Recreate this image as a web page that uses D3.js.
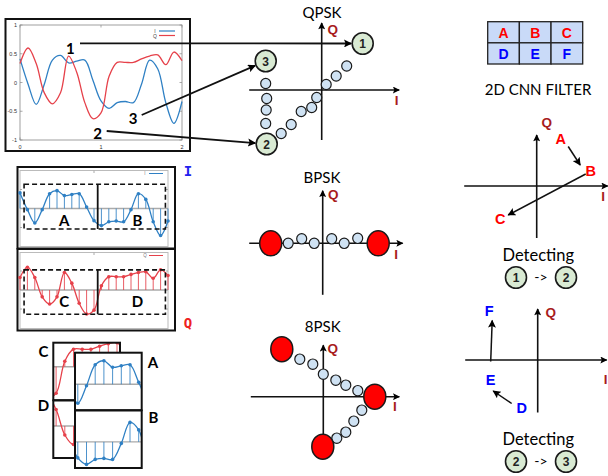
<!DOCTYPE html>
<html><head><meta charset="utf-8">
<script src="https://cdn.jsdelivr.net/npm/d3@7"></script>
<style>body{margin:0;background:#fff}svg{display:block}</style>
</head><body>
<svg id="c" width="608" height="476"></svg>
<script>
// ---------------- DATA ----------------
// I / Q baseband samples (21 samples over t = 0..2)
const iSamples = [0.41,-0.03,-0.38,-0.03,0.39,0.47,0.34,0.37,0.39,0.04,-0.32,-0.45,-0.35,-0.33,-0.35,-0.03,0.39,0.24,-0.35,-0.71,-0.33];
const qSamples = [0.33,0.60,0.33,-0.18,-0.37,-0.18,0.46,0.18,-0.35,-0.63,-0.53,0.11,0.35,0.35,0.35,0.41,0.46,0.48,0.31,0.53,0.38];
const yTicks = [1,0.5,0,-0.5,-1];
const yTickLabels = ["1","0.5","0","-0.5","-1"];
const xTicks = [0,1,2];
const xTickLabels = ["0","1","2"];
const windowLabelsI = ["A","B"];
const windowLabelsQ = ["C","D"];

// constellations (I,Q in symbol units)
const qpskSymbols = [{id:"1",i:0.82,q:0.93},{id:"2",i:-1.10,q:-1.08},{id:"3",i:-1.12,q:0.58}];
const qpskTraj = [[-1.12,0.13],[-1.10,-0.17],[-1.11,-0.40],[-1.12,-0.67],[-0.81,-0.87],[-0.61,-0.69],[-0.41,-0.43],[-0.20,-0.35],[-0.10,-0.15],[0.09,0.11],[0.29,0.28],[0.50,0.48]];
const bpskSymbols = [[-1.04,0],[1.11,0]];
const bpskTraj = [[-0.69,0],[-0.42,0.09],[-0.17,0],[0.18,0.09],[0.43,0],[0.70,0.10]];
const psk8Symbols = [[-0.83,0.95],[1.03,0],[-0.01,-1.0]];
const psk8Traj = [[-0.47,0.75],[-0.21,0.65],[0,0.45],[0.25,0.33],[0.45,0.23],[0.69,0.12],[0.77,-0.27],[0.61,-0.49],[0.45,-0.71],[0.27,-0.83]];

// 2D CNN filter
const filterRows = [["A","B","C"],["D","E","F"]];
// filter response paths (I,Q units)
const filter1Arrows = [[[0.63,0.79],[0.87,0.42]],[[0.98,0.24],[-0.57,-0.58]]];
const filter1Labels = [{t:"A",i:0.48,q:0.94},{t:"B",i:1.08,q:0.31},{t:"C",i:-0.73,q:-0.65}];
const filter2Arrows = [[[-0.94,-0.03],[-0.91,0.79]],[[-0.52,-0.87],[-0.89,-0.62]]];
const filter2Labels = [{t:"F",i:-0.97,q:0.99},{t:"E",i:-0.94,q:-0.39},{t:"D",i:-0.32,q:-0.95}];
const detect1 = ["1","2"];
const detect2 = ["2","3"];

// ---------------- DRAW ----------------
const svg = d3.select("#c");
const defs = svg.append("defs");
function mk(id,w,h){
  defs.append("marker").attr("id",id).attr("viewBox","0 0 10 10").attr("refX",9).attr("refY",5)
   .attr("markerWidth",w).attr("markerHeight",h).attr("markerUnits","userSpaceOnUse").attr("orient","auto")
   .append("path").attr("d","M0,0L10,5L0,10L2,5z").attr("fill","#000");
}
mk("ah",10,8); mk("ax",8,7);

const BLUE="#2f80c4", RED="#e6414a", DRED="#a81c1c";
const LATO="Lato, 'Open Sans', sans-serif", ARIAL="'Liberation Sans', Arial, sans-serif";
const curve = d3.curveCatmullRom.alpha(0.5);

function txt(g,x,y,s,o){
  o=o||{};
  return g.append("text").attr("x",x).attr("y",y).text(s)
   .attr("text-anchor",o.anchor||"middle").attr("dominant-baseline","central")
   .attr("font-family",o.font||LATO).attr("font-size",o.size||14)
   .attr("font-weight",o.weight||"normal").attr("fill",o.fill||"#000");
}

// ---- top-left time plot ----
(function(){
  const g = svg.append("g");
  g.append("rect").attr("x",5.5).attr("y",19).attr("width",184.5).attr("height",132)
   .attr("fill","#fff").attr("stroke","#111").attr("stroke-width",2);
  const x = d3.scaleLinear().domain([0,2]).range([20,182]);
  const y = d3.scaleLinear().domain([-1,1]).range([140,25]);
  g.append("rect").attr("x",20).attr("y",25).attr("width",162).attr("height",115)
   .attr("fill","none").attr("stroke","#888").attr("stroke-width",0.8);
  yTicks.forEach((v,k)=>{
    g.append("line").attr("x1",20).attr("x2",22.5).attr("y1",y(v)).attr("y2",y(v)).attr("stroke","#888").attr("stroke-width",0.7);
    g.append("line").attr("x1",182).attr("x2",179.5).attr("y1",y(v)).attr("y2",y(v)).attr("stroke","#888").attr("stroke-width",0.7);
    txt(g,17,y(v),yTickLabels[k],{anchor:"end",size:5.5,font:ARIAL,fill:"#333"});
  });
  xTicks.forEach((v,k)=>{
    g.append("line").attr("x1",x(v)).attr("x2",x(v)).attr("y1",140).attr("y2",137.5).attr("stroke","#888").attr("stroke-width",0.7);
    g.append("line").attr("x1",x(v)).attr("x2",x(v)).attr("y1",25).attr("y2",27.5).attr("stroke","#888").attr("stroke-width",0.7);
    txt(g,x(v),146.5,xTickLabels[k],{size:5.5,font:ARIAL,fill:"#333"});
  });
  const line = d3.line().x((d,i)=>x(i/10)).y(d=>y(d)).curve(curve);
  g.append("path").attr("d",line(iSamples)).attr("fill","none").attr("stroke",BLUE).attr("stroke-width",1.3);
  g.append("path").attr("d",line(qSamples)).attr("fill","none").attr("stroke",RED).attr("stroke-width",1.3);
  // legend
  txt(g,155,30.5,"I",{size:5,font:ARIAL,fill:"#444"});
  txt(g,155,35.5,"Q",{size:5,font:ARIAL,fill:"#444"});
  g.append("line").attr("x1",159).attr("x2",175).attr("y1",31).attr("y2",31).attr("stroke",BLUE).attr("stroke-width",1.2);
  g.append("line").attr("x1",159).attr("x2",175).attr("y1",35.5).attr("y2",35.5).attr("stroke",RED).attr("stroke-width",1.2);
})();

// ---- middle-left stem windows ----
function stemPanel(vals,color,top,zeroY,legend,labels,boxV){
  const g = svg.append("g");
  g.append("rect").attr("x",17.5).attr("y",top).attr("width",157.5).attr("height",81.5)
   .attr("fill","#fff").attr("stroke","#111").attr("stroke-width",2);
  const x = d3.scaleLinear().domain([0,20]).range([20,168]);
  const y = d3.scaleLinear().domain([-1,1]).range([zeroY+38,zeroY-38]);
  g.append("rect").attr("x",20).attr("y",top+3.5).attr("width",148).attr("height",76)
   .attr("fill","none").attr("stroke","#bbb").attr("stroke-width",1);
  [0.5,-0.5].forEach(v=>{
    g.append("line").attr("x1",20).attr("x2",22).attr("y1",y(v)).attr("y2",y(v)).attr("stroke","#aaa");
    g.append("line").attr("x1",168).attr("x2",166).attr("y1",y(v)).attr("y2",y(v)).attr("stroke","#aaa");
  });
  g.append("line").attr("x1",x(10)).attr("x2",x(10)).attr("y1",top+3.5).attr("y2",top+6).attr("stroke","#aaa");
  g.append("line").attr("x1",20).attr("x2",168).attr("y1",y(0)).attr("y2",y(0)).attr("stroke","#aaa").attr("stroke-width",1.4);
  g.selectAll(".st").data(vals).enter().append("line")
   .attr("x1",(d,i)=>x(i)).attr("x2",(d,i)=>x(i)).attr("y1",y(0)).attr("y2",d=>y(d))
   .attr("stroke",color).attr("stroke-width",1).attr("opacity",0.85);
  g.append("path").attr("d",d3.line().x((d,i)=>x(i)).y(d=>y(d)).curve(curve)(vals))
   .attr("fill","none").attr("stroke",color).attr("stroke-width",1.3);
  g.selectAll(".dt").data(vals).enter().append("circle")
   .attr("cx",(d,i)=>x(i)).attr("cy",d=>y(d)).attr("r",1.8).attr("fill",color);
  // legend
  txt(g,145,top+6.5,legend,{size:4.5,font:ARIAL,fill:"#777"});
  g.append("line").attr("x1",149).attr("x2",163).attr("y1",top+6.5).attr("y2",top+6.5).attr("stroke",color).attr("stroke-width",1);
  // dashed windows
  const wx = [0.55,10.5,19.65];
  g.append("rect").attr("x",x(wx[0])).attr("y",y(boxV[1])).attr("width",x(wx[2])-x(wx[0])).attr("height",y(boxV[0])-y(boxV[1]))
   .attr("fill","none").attr("stroke","#111").attr("stroke-width",1.6).attr("stroke-dasharray","5,3");
  g.append("line").attr("x1",x(wx[1])).attr("x2",x(wx[1])).attr("y1",y(boxV[1])).attr("y2",y(boxV[0]))
   .attr("stroke","#111").attr("stroke-width",1.8);
  txt(g,x(5.98),y(-0.3),labels[0],{size:15,weight:"bold"});
  txt(g,x(15.88),y(-0.3),labels[1],{size:15,weight:"bold"});
}
stemPanel(iSamples,BLUE,167,208.5,"I",windowLabelsI,[-0.54,0.64]);
stemPanel(qSamples,RED,249,290,"Q",windowLabelsQ,[-0.64,0.53]);
txt(svg,188,170.5,"I",{size:14,weight:"bold",fill:"#2222ee",font:"'DejaVu Sans Mono', monospace"});
txt(svg,188,323,"Q",{size:14,weight:"bold",fill:"#ee2222",font:"'DejaVu Sans Mono', monospace"});

// ---- stacked windows ----
function stackBox(id,vals,color,bx,by,start,zeroOff){
  const g = svg.append("g");
  const w=66.7, h=57.5;
  defs.append("clipPath").attr("id",id).append("rect").attr("x",bx).attr("y",by).attr("width",w).attr("height",h);
  g.append("rect").attr("x",bx).attr("y",by).attr("width",w).attr("height",h).attr("fill","#fff");
  const x = d3.scaleLinear().domain([start,start+1]).range([bx+2.8,bx+2.8+8.7]);
  const y = d3.scaleLinear().domain([0,1]).range([by+zeroOff,by+zeroOff-50]);
  const c = g.append("g").attr("clip-path",`url(#${id})`);
  c.append("line").attr("x1",bx).attr("x2",bx+w).attr("y1",y(0)).attr("y2",y(0)).attr("stroke","#aaa").attr("stroke-width",1.4);
  const idx = d3.range(start,start+8);
  c.selectAll(".st").data(idx).enter().append("line")
   .attr("x1",i=>x(i)).attr("x2",i=>x(i)).attr("y1",y(0)).attr("y2",i=>y(vals[i]))
   .attr("stroke",color).attr("stroke-width",1).attr("opacity",0.85);
  c.append("path").attr("d",d3.line().x((d,i)=>x(i)).y(d=>y(d)).curve(curve)(vals))
   .attr("fill","none").attr("stroke",color).attr("stroke-width",1.3);
  c.selectAll(".dt").data(idx).enter().append("circle")
   .attr("cx",i=>x(i)).attr("cy",i=>y(vals[i])).attr("r",1.8).attr("fill",color);
  g.append("rect").attr("x",bx).attr("y",by).attr("width",w).attr("height",h)
   .attr("fill","none").attr("stroke","#111").attr("stroke-width",2);
}
stackBox("cpC",qSamples,RED,53.3,342.7,10,24);
stackBox("cpD",qSamples,RED,53.3,400.5,2,25.5);
stackBox("cpA",iSamples,BLUE,75,352.7,2,31.6);
stackBox("cpB",iSamples,BLUE,75,410.5,10,31.4);
txt(svg,43.5,350.5,"C",{size:15,weight:"bold"});
txt(svg,43.5,405,"D",{size:15,weight:"bold"});
txt(svg,153,362,"A",{size:15,weight:"bold"});
txt(svg,153.5,417,"B",{size:15,weight:"bold"});

// ---- constellation panels ----
const U = 50;
function scales(cx,cy){
  return {x:d3.scaleLinear().domain([0,1]).range([cx,cx+U]), y:d3.scaleLinear().domain([0,1]).range([cy,cy-U])};
}
function axes(g,s,iExt,qExt,qLab,iLab){
  g.append("line").attr("x1",s.x(iExt[0])).attr("x2",s.x(iExt[1])).attr("y1",s.y(0)).attr("y2",s.y(0))
   .attr("stroke","#111").attr("stroke-width",1.6).attr("marker-end","url(#ax)");
  g.append("line").attr("x1",s.x(0)).attr("x2",s.x(0)).attr("y1",s.y(qExt[0])).attr("y2",s.y(qExt[1]))
   .attr("stroke","#111").attr("stroke-width",1.6).attr("marker-end","url(#ax)");
  txt(g,s.x(qLab[0]),s.y(qLab[1]),"Q",{size:13.5,weight:"bold",font:ARIAL,fill:DRED});
  txt(g,s.x(iLab[0]),s.y(iLab[1]),"I",{size:13.5,weight:"bold",font:ARIAL,fill:DRED});
}
function smallPts(g,s,pts){
  g.selectAll(null).data(pts).enter().append("ellipse")
   .attr("cx",d=>s.x(d[0])).attr("cy",d=>s.y(d[1])).attr("rx",5).attr("ry",5.2)
   .attr("fill","#cfe2f3").attr("stroke","#1a1a1a").attr("stroke-width",1.2);
}
function bigPts(g,s,pts){
  g.selectAll(null).data(pts).enter().append("ellipse")
   .attr("cx",d=>s.x(d[0])).attr("cy",d=>s.y(d[1])).attr("rx",11).attr("ry",12.5)
   .attr("fill","#ff0000").attr("stroke","#1a1a1a").attr("stroke-width",1.5);
}
function numCircle(g,cx,cy,n){
  g.append("ellipse").attr("cx",cx).attr("cy",cy).attr("rx",10.5).attr("ry",10.8)
   .attr("fill","#d9ead3").attr("stroke","#1a1a1a").attr("stroke-width",1.6);
  txt(g,cx,cy+0.5,n,{size:12,weight:"bold",font:ARIAL,fill:"#222"});
}

// QPSK
const sQ = scales(321.7,90);
(function(){
  const g = svg.append("g");
  txt(g,322,12,"QPSK",{size:15});
  axes(g,sQ,[-1.45,1.55],[-1.0,1.34],[0.22,1.22],[1.5,-0.2]);
  smallPts(g,sQ,qpskTraj);
  qpskSymbols.forEach(d=>numCircle(g,sQ.x(d.i),sQ.y(d.q),d.id));
  // arrows from time-plot labels
  const starts = {"1":[80,43.3],"3":[141.7,115],"2":[106.7,131]};
  const labs = {"1":[70.3,47.5],"3":[133,118.3],"2":[97.5,133.3]};
  qpskSymbols.forEach(d=>{
    const cx=sQ.x(d.i), cy=sQ.y(d.q), p=starts[d.id];
    const dx=cx-p[0], dy=cy-p[1], L=Math.hypot(dx,dy);
    svg.append("line").attr("x1",p[0]).attr("y1",p[1]).attr("x2",cx-dx/L*11.5).attr("y2",cy-dy/L*11.5)
      .attr("stroke","#111").attr("stroke-width",1.8).attr("marker-end","url(#ah)");
    txt(svg,labs[d.id][0],labs[d.id][1],d.id,{size:15,weight:"bold"});
  });
})();

// BPSK
(function(){
  const s = scales(322.7,243.3);
  const g = svg.append("g");
  txt(g,322,177,"BPSK",{size:15});
  axes(g,s,[-1.47,1.6],[-1.03,1.05],[0.21,0.97],[1.47,-0.23]);
  smallPts(g,s,bpskTraj);
  bigPts(g,s,bpskSymbols);
})();

// 8PSK
(function(){
  const s = scales(323.3,396.7);
  const g = svg.append("g");
  txt(g,322.7,326,"8PSK",{size:15});
  axes(g,s,[-1.45,1.52],[-1.0,1.03],[0.19,0.97],[1.43,-0.2]);
  smallPts(g,s,psk8Traj);
  bigPts(g,s,psk8Symbols);
})();

// ---- 2D CNN filter grid ----
(function(){
  const g = svg.append("g");
  const x = d3.scaleBand().domain([0,1,2]).range([487.7,582.7]);
  const y = d3.scaleBand().domain([0,1]).range([21.7,64]);
  filterRows.forEach((row,r)=>row.forEach((t,c)=>{
    g.append("rect").attr("x",x(c)).attr("y",y(r)).attr("width",x.bandwidth()).attr("height",y.bandwidth())
     .attr("fill","#c9daf8").attr("stroke","#222").attr("stroke-width",1.3);
    txt(g,x(c)+x.bandwidth()/2,y(r)+y.bandwidth()/2+0.5,t,{size:14,weight:"bold",font:ARIAL,fill:r===0?"#ff0000":"#0000ff"});
  }));
  txt(g,538,89,"2D CNN FILTER",{size:15});
})();

function filterPanel(cx,cy,iExt,qExt,qLab,iLab,arrows,labels,col,detY,det){
  const s = scales(cx,cy);
  const g = svg.append("g");
  axes(g,s,iExt,qExt,qLab,iLab);
  arrows.forEach(a=>{
    g.append("line").attr("x1",s.x(a[0][0])).attr("y1",s.y(a[0][1])).attr("x2",s.x(a[1][0])).attr("y2",s.y(a[1][1]))
     .attr("stroke","#111").attr("stroke-width",1.5).attr("marker-end","url(#ah)");
  });
  labels.forEach(l=>txt(g,s.x(l.i),s.y(l.q),l.t,{size:14.5,weight:"bold",font:ARIAL,fill:col}));
  txt(g,538.3,detY,"Detecting",{size:16.5});
  numCircle(g,516,detY+22.5,det[0]);
  numCircle(g,566,detY+22.5,det[1]);
  txt(g,541,detY+21.5,"->",{size:14});
}
filterPanel(536.7,186,[-1.45,1.42],[-1.04,1.02],[0.2,1.28],[1.33,-0.21],filter1Arrows,filter1Labels,"#ff0000",255,detect1);
filterPanel(537.7,360,[-1.45,1.38],[-1.05,1.02],[0.26,0.95],[1.36,-0.38],filter2Arrows,filter2Labels,"#0000ff",439,detect2);
</script>
</body></html>
